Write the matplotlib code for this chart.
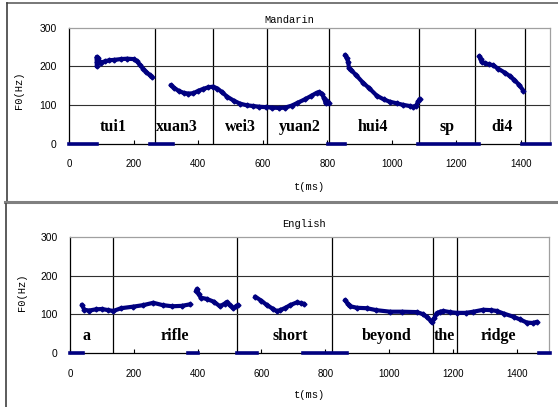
# F0 contours, Mandarin vs English

import matplotlib
matplotlib.use('Agg')
import matplotlib.pyplot as plt
from matplotlib.lines import Line2D

navy = '#000080'

# ---- Mandarin data
m_tui1_t = [86, 86, 87, 89, 92, 96, 100, 110, 125, 140, 160, 180, 200, 210, 220, 230, 240, 250, 256]
m_tui1_f = [200, 225, 212, 222, 214, 212, 210, 213, 216, 217, 219, 220, 219, 214, 204, 194, 185, 178, 173]
m_xuan3_t = [315, 325, 340, 355, 370, 385, 400, 415, 430, 447, 460, 475, 490, 510, 530, 550, 570, 590, 610, 630, 650,
             670, 690, 705, 730, 750, 767, 775, 783, 790, 795, 800, 805]
m_xuan3_f = [152, 145, 137, 132, 130, 131, 137, 142, 146, 148, 143, 133, 122, 112, 104, 100, 98, 96, 95, 94, 93,
             94, 99, 105, 115, 124, 132, 134, 130, 118, 105, 110, 106]
m_hui4_t = [855, 860, 865, 867, 875, 890, 912, 930, 953, 975, 994, 1015, 1035, 1055, 1066, 1075, 1082, 1086]
m_hui4_f = [230, 222, 212, 196, 190, 177, 157, 144, 125, 115, 109, 105, 101, 98, 96, 99, 110, 116]
m_di4_t = [1271, 1275, 1278, 1290, 1300, 1314, 1330, 1350, 1366, 1380, 1395, 1407]
m_di4_f = [227, 218, 212, 208, 206, 203, 194, 184, 175, 165, 152, 138]
m_zero = [(0, 88), (251, 323), (801, 855), (1080, 1270), (1402, 1490)]
m_bounds = [267, 447, 612, 806, 1085, 1259, 1414]
m_words = ['tui1', 'xuan3', 'wei3', 'yuan2', 'hui4', 'sp', 'di4']
m_word_x = [137, 333, 530, 715, 942, 1170, 1343]

# ---- English data
e_rifle_t = [37, 45, 60, 80, 100, 120, 136, 160, 198, 230, 261, 290, 320, 350, 376]
e_rifle_f = [125, 112, 110, 113, 114, 111, 109, 116, 120, 124, 130, 124, 121, 122, 126]
e_rifle2_t = [395, 398, 403, 410, 428, 450, 470, 485, 491, 500, 512, 520, 527]
e_rifle2_f = [160, 166, 152, 143, 140, 133, 121, 128, 132, 124, 116, 121, 124]
e_short_t = [580, 600, 617, 635, 649, 658, 675, 690, 711, 725, 734]
e_short_f = [146, 135, 124, 115, 108, 111, 117, 124, 131, 129, 127]
e_beyond_t = [862, 870, 878, 900, 930, 960, 1003, 1040, 1087, 1105, 1118, 1130, 1134, 1142, 1149, 1160, 1170,
              1190, 1212, 1240, 1264, 1295, 1320, 1337, 1360, 1390, 1410, 1432, 1450, 1463]
e_beyond_f = [137, 128, 121, 117, 116, 111, 107, 107, 106, 101, 94, 84, 81, 90, 103, 107, 109,
              106, 104, 104, 107, 112, 111, 109, 102, 94, 87, 79, 78, 81]
e_zero = [(0, 42), (371, 402), (524, 585), (731, 867), (1470, 1505)]
e_bounds = [136, 524, 822, 1139, 1212]
e_words = ['a', 'rifle', 'short', 'beyond', 'the', 'ridge']
e_word_x = [52, 329, 690, 993, 1173, 1343]

W, H = 558, 407
fig = plt.figure(figsize=(W / 100, H / 100), dpi=100)


def fx(px):
    return px / W


def fy(py):
    return 1 - py / H


def panel(rect, xmax, curves, zeros, bounds, words, word_x, title, title_xy, ylab_xy, xlab_xy):
    ax = fig.add_axes(rect)
    ax.set_xlim(0, xmax)
    ax.set_ylim(0, 300)
    for b in bounds:
        ax.plot([b, b], [0, 300], color='black', lw=0.9, zorder=1)
    for g in [100, 200]:
        ax.axhline(g, color='#303030', lw=0.8, zorder=1)
    for t, f in curves:
        ax.plot(t, f, color=navy, lw=3.0, marker='D', ms=2.5, zorder=3, solid_capstyle='round')
    for a, b in zeros:
        ax.plot([a, b], [0, 0], color=navy, lw=2.6, zorder=4, clip_on=False)
    for w, x in zip(words, word_x):
        ax.text(x, 45, w, ha='center', va='center', fontsize=11.5, fontweight='bold',
                family='Liberation Serif', zorder=5)
    ax.set_xticks(range(0, 1401, 200))
    ax.set_yticks([0, 100, 200, 300])
    ax.tick_params(axis='x', direction='in', length=3, pad=11, labelsize=7)
    ax.tick_params(axis='y', length=0, pad=9, labelsize=7.5)
    for lbl in ax.get_xticklabels() + ax.get_yticklabels():
        lbl.set_family('Liberation Sans')
    ax.spines['top'].set_color('#a0a0a0')
    ax.spines['right'].set_color('#a0a0a0')
    ax.spines['left'].set_color('black')
    ax.spines['bottom'].set_color('black')
    for s in ax.spines.values():
        s.set_linewidth(0.9)
    fig.text(fx(title_xy[0]), fy(title_xy[1]), title, ha='center', va='center',
             fontsize=7.5, family='Liberation Mono')
    fig.text(fx(ylab_xy[0]), fy(ylab_xy[1]), 'F0(Hz)', ha='center', va='center', rotation=90,
             fontsize=7.5, family='Liberation Mono')
    fig.text(fx(xlab_xy[0]), fy(xlab_xy[1]), 't(ms)', ha='center', va='center',
             fontsize=7.5, family='Liberation Mono')
    return ax


panel([fx(69), fy(144), fx(550) - fx(69), fy(27.7) - fy(144)], 1490,
      [(m_tui1_t, m_tui1_f), (m_xuan3_t, m_xuan3_f), (m_hui4_t, m_hui4_f), (m_di4_t, m_di4_f)],
      m_zero, m_bounds, m_words, m_word_x, 'Mandarin', (289, 20), (19, 90), (310, 187))

panel([fx(70), fy(353.3), fx(549.3) - fx(70), fy(236.7) - fy(353.3)], 1502,
      [(e_rifle_t, e_rifle_f), (e_rifle2_t, e_rifle2_f), (e_short_t, e_short_f), (e_beyond_t, e_beyond_f)],
      e_zero, e_bounds, e_words, e_word_x, 'English', (304, 224), (22, 292), (310, 395))

# panel frames
fig.add_artist(Line2D([fx(6.5), fx(W)], [fy(2.5), fy(2.5)], color='#606060', lw=1.2))
fig.add_artist(Line2D([fx(6.5), fx(6.5)], [fy(2.5), fy(203)], color='#404040', lw=1.2))
fig.add_artist(Line2D([fx(5), fx(W)], [fy(202.5), fy(202.5)], color='#808080', lw=2.2))
fig.add_artist(Line2D([fx(5.5), fx(5.5)], [fy(204), fy(H)], color='#404040', lw=1.2))

fig.savefig('out.png', dpi=100)
